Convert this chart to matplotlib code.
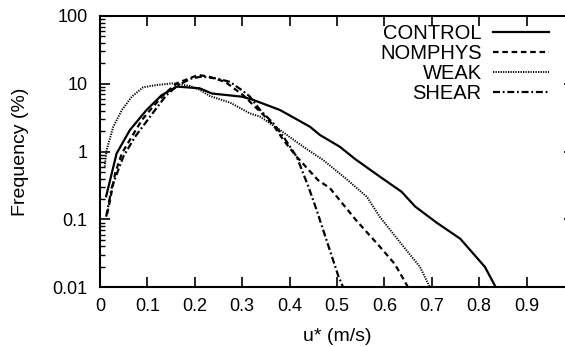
import matplotlib
matplotlib.use("Agg")
import matplotlib.pyplot as plt
from matplotlib.ticker import FixedLocator, LogLocator, NullFormatter

plt.rcParams['font.family'] = ['Liberation Sans', 'DejaVu Sans']
plt.rcParams['lines.scale_dashes'] = False

# data (u* in m/s, frequency in %)
control_x = [0.013, 0.035, 0.063, 0.098, 0.13, 0.162, 0.21, 0.236, 0.30, 0.323, 0.38,
             0.443, 0.464, 0.506, 0.538, 0.59, 0.636, 0.665, 0.71, 0.76, 0.812, 0.835]
control_y = [0.22, 0.94, 2.08, 4.1, 6.8, 9.1, 8.6, 7.2, 6.46, 5.8, 4.1,
             2.33, 1.76, 1.18, 0.78, 0.43, 0.257, 0.155, 0.09, 0.052, 0.02, 0.01]

nomphys_x = [0.015, 0.021, 0.032, 0.046, 0.067, 0.088, 0.109, 0.137, 0.162, 0.207, 0.229, 0.264,
             0.302, 0.345, 0.366, 0.387, 0.415, 0.46, 0.485, 0.54, 0.59, 0.622, 0.65]
nomphys_y = [0.12, 0.19, 0.48, 0.94, 1.66, 2.9, 4.36, 7.2, 10.2, 13.5, 12.8, 10.7,
             6.8, 3.47, 2.45, 1.48, 0.84, 0.38, 0.29, 0.098, 0.04, 0.022, 0.01]

weak_x = [0.01, 0.014, 0.028, 0.046, 0.067, 0.091, 0.12, 0.155, 0.19, 0.211, 0.232, 0.274,
          0.316, 0.338, 0.38, 0.429, 0.471, 0.517, 0.563, 0.59, 0.64, 0.675, 0.696]
weak_y = [0.6, 1.06, 2.33, 4.1, 6.46, 8.9, 9.6, 10.2, 9.3, 8.1, 6.6, 5.3,
          3.67, 3.27, 2.08, 1.18, 0.75, 0.41, 0.216, 0.11, 0.04, 0.02, 0.01]

shear_x = [0.013, 0.025, 0.049, 0.074, 0.095, 0.116, 0.14, 0.165, 0.193, 0.215, 0.246, 0.274,
           0.30, 0.316, 0.338, 0.366, 0.387, 0.415, 0.44, 0.457, 0.485, 0.503, 0.513]
shear_y = [0.11, 0.3, 0.84, 1.66, 2.6, 4.1, 6.8, 9.6, 12.0, 12.8, 12.0, 10.7,
           8.0, 6.5, 4.1, 2.6, 1.66, 0.84, 0.3, 0.138, 0.035, 0.0145, 0.01]

x_ticks = [0, 0.1, 0.2, 0.3, 0.4, 0.5, 0.6, 0.7, 0.8, 0.9, 1.0]
x_labels = ['0', '0.1', '0.2', '0.3', '0.4', '0.5', '0.6', '0.7', '0.8', '0.9', '']
y_ticks = [0.01, 0.1, 1, 10, 100]
y_labels = ['0.01', '0.1', '1', '10', '100']

fs_tick = 13
fs_label = 14
fs_leg = 14.5
fig = plt.figure(figsize=(5.65, 3.47), dpi=100)
# right edge of the frame lies just outside the image, as in the reference
ax = fig.add_axes([100 / 565, 1 - 287.3 / 347, 474 / 565, 271.3 / 347])

ax.plot(control_x, control_y, color='black', lw=1.6, linestyle='-', label='CONTROL')
ax.plot(nomphys_x, nomphys_y, color='black', lw=1.6, linestyle=(0, (4, 2.7)), label='NOMPHYS')
ax.plot(weak_x, weak_y, color='black', lw=1.4, linestyle=(0, (0.9, 0.9)), label='WEAK')
ax.plot(shear_x, shear_y, color='black', lw=1.6, linestyle=(0, (5, 2, 1.3, 2)), label='SHEAR')

ax.set_yscale('log')
ax.set_xlim(0, 1.0)
ax.set_ylim(0.01, 100)

ax.xaxis.set_major_locator(FixedLocator(x_ticks))
ax.set_xticklabels(x_labels, fontsize=fs_tick)
ax.yaxis.set_major_locator(FixedLocator(y_ticks))
ax.set_yticklabels(y_labels, fontsize=fs_tick)
ax.yaxis.set_minor_locator(LogLocator(base=10, subs=range(2, 10)))
ax.yaxis.set_minor_formatter(NullFormatter())

ax.tick_params(which='major', direction='in', length=7, width=1.2, top=True, right=True, pad=8)
ax.tick_params(which='minor', direction='in', length=3.5, width=1.0, right=True)
ax.tick_params(axis='y', which='major', pad=9)
for sp in ax.spines.values():
    sp.set_linewidth(1.5)

ax.set_xlabel('u* (m/s)', fontsize=fs_label, labelpad=9)
ax.set_ylabel('Frequency (%)', fontsize=fs_label, labelpad=17)

leg = ax.legend(loc='upper right', bbox_to_anchor=(549 / 565, 1 - 24 / 347),
                bbox_transform=fig.transFigure, frameon=False, markerfirst=False,
                fontsize=fs_leg, handlelength=2.8, handletextpad=0.55, labelspacing=0.05,
                borderpad=0, borderaxespad=0)

fig.savefig('out.png', dpi=100)
